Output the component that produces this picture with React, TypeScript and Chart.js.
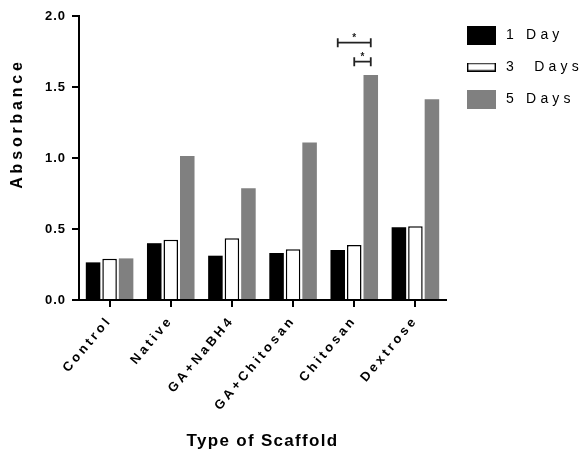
import React, { useEffect, useRef } from 'react';
import { Chart, registerables } from 'chart.js';

Chart.register(...registerables);

const FONT = "'Liberation Sans', Arial, Helvetica, sans-serif";

// ---- data ----
const categories = ['Control', 'Native', 'GA+NaBH4', 'GA+Chitosan', 'Chitosan', 'Dextrose'];
const seriesLabels = ['1 Day', '3  Days', '5 Days'];
const day1 = [0.265, 0.4, 0.312, 0.331, 0.352, 0.512];
const day3 = [0.29, 0.425, 0.434, 0.357, 0.387, 0.519];
const day5 = [0.293, 1.014, 0.787, 1.11, 1.585, 1.413];
const yTickLabels = ['0.0', '0.5', '1.0', '1.5', '2.0'];
const xTitle = 'Type of Scaffold';
const yTitle = 'Absorbance';

// significance brackets (category, from-series, to-series, value level, text)
const sigCategory = ['Chitosan', 'Chitosan'];
const sigFrom = [0, 1];
const sigTo = [2, 2];
const sigLevel = [1.812, 1.678];
const sigText = ['*', '*'];

// ---- helpers ----
function makeSwatch(w: number, h: number, fill: string, stroke?: string, lw = 0) {
  const c = document.createElement('canvas');
  c.width = w;
  c.height = h;
  const g = c.getContext('2d')!;
  g.fillStyle = fill;
  g.fillRect(0, 0, w, h);
  if (stroke && lw > 0) {
    g.strokeStyle = stroke;
    g.lineWidth = lw;
    g.strokeRect(lw / 2, lw / 2, w - lw, h - lw);
  }
  return c;
}

function wrapMethod(obj: any, name: string, spacing: string, dy = 0) {
  const flag = `__ls_${name}`;
  if (!obj || obj[flag] || typeof obj[name] !== 'function') return;
  const orig = obj[name];
  obj[name] = function (this: any, ...args: any[]) {
    const ctx = this.ctx as CanvasRenderingContext2D;
    ctx.save();
    (ctx as any).letterSpacing = spacing;
    if (dy) ctx.translate(0, dy);
    try {
      return orig.apply(this, args);
    } finally {
      ctx.restore();
    }
  };
  obj[flag] = true;
}

const LS_LEGEND = '4.2px';
const LS_XTICKS = '3.2px';
const LS_YTICKS = '1px';
const LS_XTITLE = '1.3px';
const LS_YTITLE = '3.8px';

const spacingPlugin = {
  id: 'letterSpacingPatch',
  beforeLayout(chart: any) {
    patch(chart);
  },
  beforeDraw(chart: any) {
    patch(chart);
  },
};

function patch(chart: any) {
  const { x, y } = chart.scales;
  if (chart.legend) {
    wrapMethod(chart.legend, 'fit', LS_LEGEND);
    wrapMethod(chart.legend, 'draw', LS_LEGEND);
  }
  if (x) {
    wrapMethod(x, 'drawLabels', LS_XTICKS);
    wrapMethod(x, 'drawTitle', LS_XTITLE);
  }
  if (y) {
    wrapMethod(y, 'drawLabels', LS_YTICKS);
    wrapMethod(y, 'drawTitle', LS_YTITLE, -34.5);
  }
}

const sigPlugin = {
  id: 'sigBrackets',
  afterDatasetsDraw(chart: any) {
    const { ctx } = chart;
    const yScale = chart.scales.y;
    ctx.save();
    ctx.strokeStyle = '#222222';
    ctx.fillStyle = '#222222';
    ctx.lineWidth = 1.8;
    ctx.font = `bold 10px ${FONT}`;
    ctx.textAlign = 'center';
    ctx.textBaseline = 'alphabetic';
    sigCategory.forEach((cat, k) => {
      const idx = categories.indexOf(cat);
      const x1 = chart.getDatasetMeta(sigFrom[k]).data[idx].x;
      const x2 = chart.getDatasetMeta(sigTo[k]).data[idx].x;
      const yy = yScale.getPixelForValue(sigLevel[k]);
      ctx.beginPath();
      ctx.moveTo(x1, yy);
      ctx.lineTo(x2, yy);
      ctx.moveTo(x1, yy - 4.5);
      ctx.lineTo(x1, yy + 4.5);
      ctx.moveTo(x2, yy - 4.5);
      ctx.lineTo(x2, yy + 4.5);
      ctx.stroke();
      ctx.fillText(sigText[k], (x1 + x2) / 2, yy - 2);
    });
    ctx.restore();
  },
};

export default function App() {
  const ref = useRef<HTMLCanvasElement | null>(null);

  useEffect(() => {
    if (!ref.current) return;
    const swatches = [
      makeSwatch(29, 19, '#000000'),
      makeSwatch(29, 9, '#ffffff', '#000000', 1.4),
      makeSwatch(29, 19, '#808080'),
    ];
    const axisGrid = {
      display: true,
      drawOnChartArea: false,
      drawTicks: true,
      tickLength: 7,
      color: '#000000',
      lineWidth: 2,
    };
    const chart = new Chart(ref.current, {
      type: 'bar',
      data: {
        labels: categories,
        datasets: [
          { label: seriesLabels[0], data: day1, backgroundColor: '#000000', borderWidth: 0 },
          { label: seriesLabels[1], data: day3, backgroundColor: '#ffffff', borderColor: '#000000', borderWidth: 1.5 },
          { label: seriesLabels[2], data: day5, backgroundColor: '#808080', borderWidth: 0 },
        ],
      },
      options: {
        animation: false,
        responsive: true,
        maintainAspectRatio: false,
        layout: { padding: { top: 10, left: 0, right: 0, bottom: 0 }, autoPadding: false },
        datasets: { bar: { categoryPercentage: 0.81, barPercentage: 0.88 } } as any,
        plugins: {
          tooltip: { enabled: false },
          legend: {
            position: 'right',
            align: 'start',
            fullSize: true,
            maxWidth: 133,
            labels: {
              usePointStyle: true,
              pointStyleWidth: 35,
              padding: 18,
              color: '#000000',
              font: { family: FONT, size: 14, weight: 'normal' },
              generateLabels: (c: any) =>
                c.data.datasets.map((ds: any, i: number) => ({
                  text: ds.label,
                  pointStyle: swatches[i],
                  fillStyle: ds.backgroundColor,
                  strokeStyle: '#000000',
                  lineWidth: 0,
                  hidden: false,
                  datasetIndex: i,
                  fontColor: '#000000',
                })),
            },
          } as any,
        },
        scales: {
          x: {
            offset: true,
            grid: { ...axisGrid, offset: false },
            border: { display: true, color: '#000000', width: 2 },
            ticks: {
              color: '#000000',
              font: { family: FONT, size: 13, weight: 'bold' },
              minRotation: 50,
              maxRotation: 50,
              padding: 6,
              autoSkip: false,
            },
            title: {
              display: true,
              text: xTitle,
              color: '#000000',
              font: { family: FONT, size: 17, weight: 'bold' },
              padding: { top: 0, bottom: 0 },
            },
            afterFit: (s: any) => {
              s.height = 152;
              s.paddingLeft = 0;
              s.paddingRight = 0;
            },
          },
          y: {
            min: 0,
            max: 2,
            grid: axisGrid,
            border: { display: true, color: '#000000', width: 2 },
            ticks: {
              stepSize: 0.5,
              color: '#000000',
              font: { family: FONT, size: 13, weight: 'bold' },
              padding: 6,
              callback: (_v: any, i: number) => yTickLabels[i],
            },
            title: {
              display: true,
              text: yTitle,
              color: '#000000',
              font: { family: FONT, size: 16, weight: 'bold' },
              padding: { top: 8, bottom: 0 },
            },
            afterFit: (s: any) => {
              s.width = 79;
              s.paddingTop = 16;
            },
          },
        },
      } as any,
      plugins: [spacingPlugin, sigPlugin],
    });
    return () => chart.destroy();
  }, []);

  return (
    <div style={{ position: 'fixed', left: 0, top: 0, width: 579, height: 452, background: '#ffffff' }}>
      <canvas ref={ref} />
    </div>
  );
}
